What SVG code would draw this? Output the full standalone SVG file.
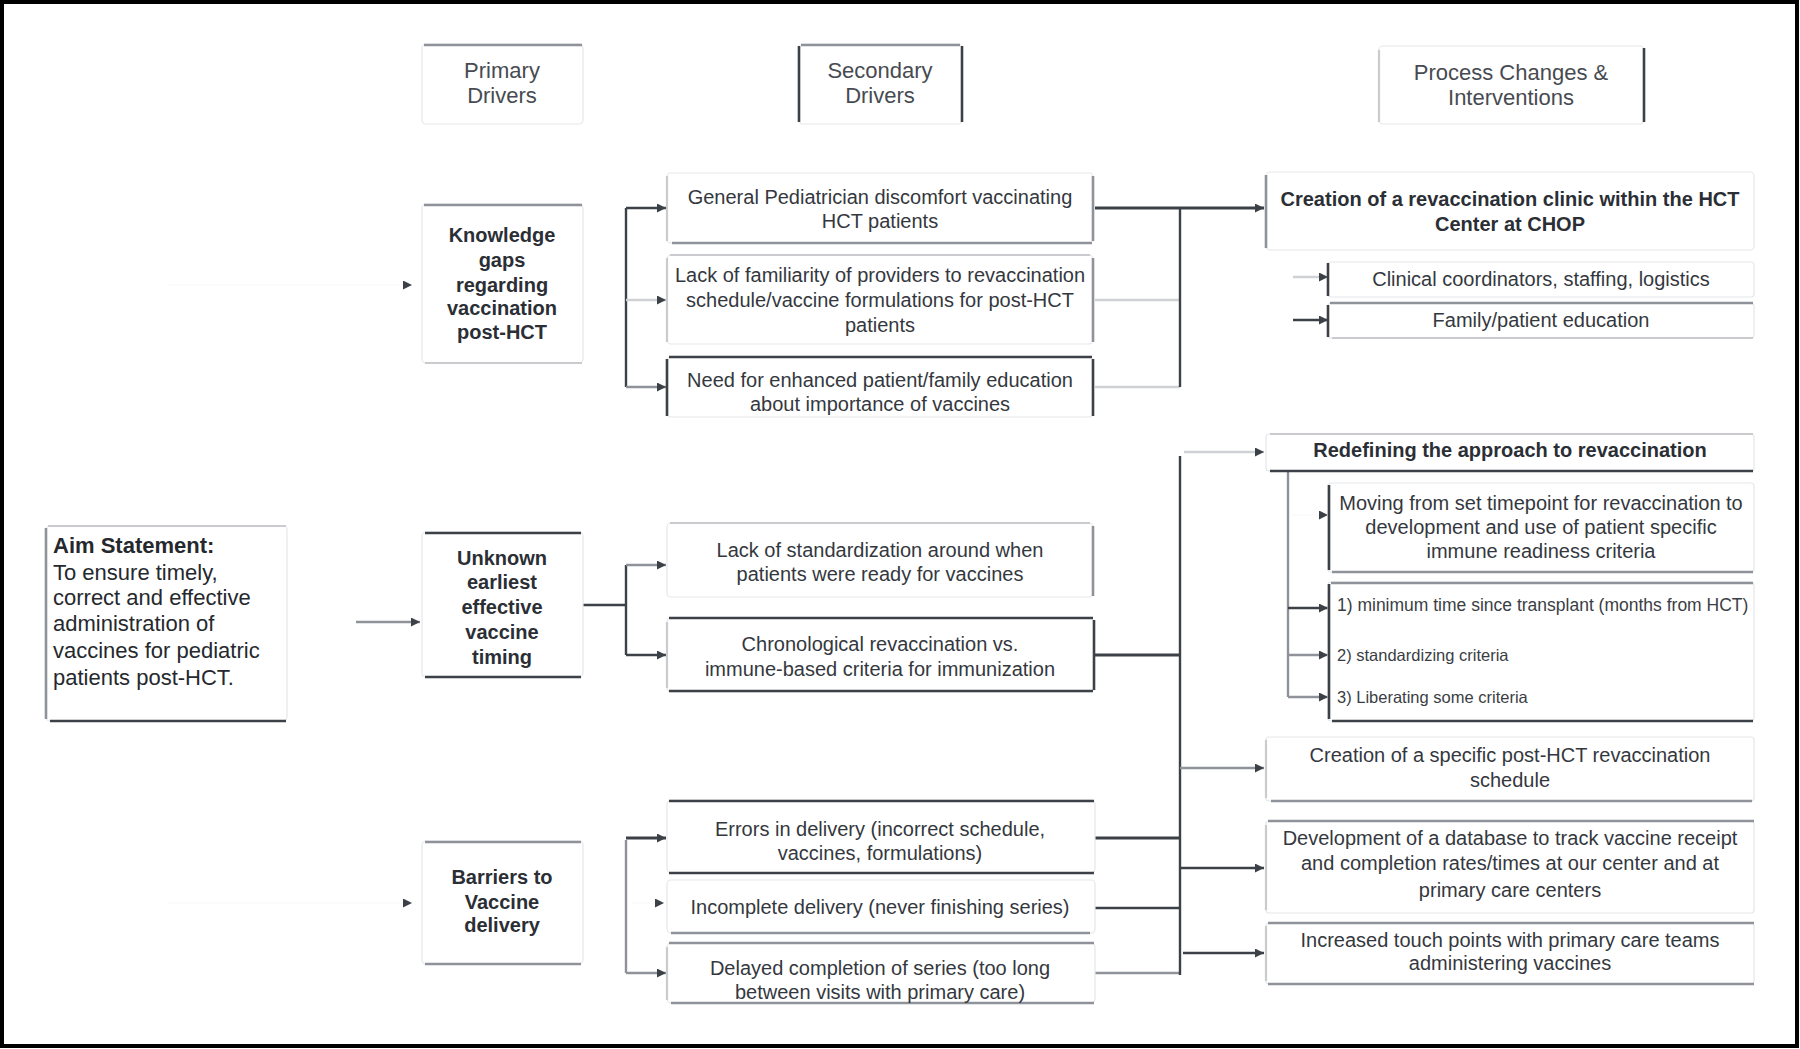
<svg xmlns="http://www.w3.org/2000/svg" width="1800" height="1049" viewBox="0 0 1800 1049">
<style>
.bg{fill:#fff}
.frame{fill:none;stroke:#000;stroke-width:4}
.box{fill:#fff;stroke:#e6e7e9;stroke-width:1.2}
.ed{stroke:#3c4047;stroke-width:2.6;fill:none}
.eg{stroke:#8f9399;stroke-width:2.6;fill:none}
.el{stroke:#c9cbce;stroke-width:2.2;fill:none}
.t{font-family:"Liberation Sans",Arial,sans-serif;font-size:20px;fill:#34383e;text-anchor:middle}
.tb{font-family:"Liberation Sans",Arial,sans-serif;font-size:20px;font-weight:bold;fill:#2b2f35;text-anchor:middle}
.th{font-family:"Liberation Sans",Arial,sans-serif;font-size:22px;fill:#474b51;text-anchor:middle}
.ta{font-family:"Liberation Sans",Arial,sans-serif;font-size:22px;fill:#25292e}
.ts{font-family:"Liberation Sans",Arial,sans-serif;font-size:16.5px;fill:#3a3e44}
.ts1{font-size:17.5px}
.cd{stroke:#3c4047;stroke-width:2.4;fill:none}
.cdt{stroke:#3c4047;stroke-width:3.2;fill:none}
.cg{stroke:#8f9399;stroke-width:2.4;fill:none}
.cl{stroke:#cfd1d4;stroke-width:2.4;fill:none}
.cf{stroke:#f7f7f7;stroke-width:1;fill:none}
</style>
<defs>
<marker id="ah" viewBox="0 0 10 10" refX="10" refY="5" markerWidth="9" markerHeight="9" markerUnits="userSpaceOnUse" orient="auto">
<path d="M0,0 L10,5 L0,10 z" fill="#3c4047"/>
</marker>
</defs>
<rect class="bg" x="0" y="0" width="1800" height="1049"/>
<rect class="frame" x="2" y="2" width="1795" height="1044"/>

<g id="connectors">
<path class="cf" d="M168,285 L412,285" marker-end="url(#ah)"/>
<path class="cf" d="M168,903 L412,903" marker-end="url(#ah)"/>
<path class="cf" d="M262,622 L284,622" marker-end="url(#ah)"/>
<path class="cg" d="M356,622 L420,622" marker-end="url(#ah)"/>
<path class="cd" d="M626,208 L626,387"/>
<path class="cd" d="M626,208 L666,208" marker-end="url(#ah)"/>
<path class="cl" d="M626,300 L666,300" marker-end="url(#ah)"/>
<path class="cg" d="M626,387 L666,387" marker-end="url(#ah)"/>
<path class="cdt" d="M1095,208 L1264,208" marker-end="url(#ah)"/>
<path class="cl" d="M1095,300 L1180,300"/>
<path class="cl" d="M1095,387 L1180,387"/>
<path class="cd" d="M1180,208 L1180,387"/>
<path class="cl" d="M1293,277 L1328,277" marker-end="url(#ah)"/>
<path class="cd" d="M1293,320 L1328,320" marker-end="url(#ah)"/>
<path class="cd" d="M583,605 L626,605"/>
<path class="cd" d="M626,565 L626,655"/>
<path class="cg" d="M626,565 L666,565" marker-end="url(#ah)"/>
<path class="cd" d="M626,655 L666,655" marker-end="url(#ah)"/>
<path class="cdt" d="M1095,655 L1180,655"/>
<path class="cdt" d="M1095,838 L1180,838"/>
<path class="cd" d="M1095,908 L1180,908"/>
<path class="cg" d="M1095,973 L1180,973"/>
<path class="cd" d="M1180,456 L1180,975"/>
<path class="cl" d="M1184,452 L1264,452" marker-end="url(#ah)"/>
<path class="cg" d="M1180,768 L1264,768" marker-end="url(#ah)"/>
<path class="cd" d="M1180,868 L1264,868" marker-end="url(#ah)"/>
<path class="cd" d="M1183,953 L1264,953" marker-end="url(#ah)"/>
<path class="cg" d="M626,840 L626,973"/>
<path class="cdt" d="M626,838 L666,838" marker-end="url(#ah)"/>
<path class="cf" d="M632,903 L664,903" marker-end="url(#ah)"/>
<path class="cg" d="M626,973 L666,973" marker-end="url(#ah)"/>
<path class="cg" d="M1288,472 L1288,697"/>
<path class="cf" d="M1292,515 L1328,515" marker-end="url(#ah)"/>
<path class="cd" d="M1288,608 L1328,608" marker-end="url(#ah)"/>
<path class="cg" d="M1288,655 L1328,655" marker-end="url(#ah)"/>
<path class="cg" d="M1288,697 L1328,697" marker-end="url(#ah)"/>
</g>

<g id="hdr-primary">
<rect class="box" x="422" y="44" width="161" height="80" rx="4"/>
<line class="eg" x1="424" y1="45" x2="582" y2="45"/>
<text class="th" x="502" y="78">Primary</text>
<text class="th" x="502" y="103">Drivers</text>
</g>
<g id="hdr-secondary">
<rect class="box" x="799" y="44" width="163" height="80" rx="4"/>
<line class="eg" x1="801" y1="45" x2="960" y2="45"/>
<line class="ed" x1="799" y1="46" x2="799" y2="122"/>
<line class="ed" x1="962" y1="46" x2="962" y2="122"/>
<text class="th" x="880" y="78">Secondary</text>
<text class="th" x="880" y="103">Drivers</text>
</g>
<g id="hdr-process">
<rect class="box" x="1379" y="46" width="265" height="78" rx="4"/>
<line class="el" x1="1379" y1="50" x2="1379" y2="122"/>
<line class="ed" x1="1644" y1="48" x2="1644" y2="122"/>
<text class="th" x="1511" y="80">Process Changes &amp;</text>
<text class="th" x="1511" y="105">Interventions</text>
</g>

<g id="aim">
<rect class="box" x="46" y="526" width="241" height="195" rx="4"/>
<line class="el" x1="48" y1="526" x2="286" y2="526"/>
<line class="eg" x1="46" y1="528" x2="46" y2="719"/>
<line class="ed" x1="50" y1="721" x2="286" y2="721"/>
<text class="ta" x="53" y="553" font-weight="bold">Aim Statement:</text>
<text class="ta" x="53" y="580">To ensure timely,</text>
<text class="ta" x="53" y="605">correct and effective</text>
<text class="ta" x="53" y="631">administration of</text>
<text class="ta" x="53" y="658">vaccines for pediatric</text>
<text class="ta" x="53" y="685">patients post-HCT.</text>
</g>

<g id="pd-knowledge">
<rect class="box" x="422" y="204" width="161" height="159" rx="4"/>
<line class="eg" x1="424" y1="205" x2="582" y2="205"/>
<line class="el" x1="425" y1="363" x2="582" y2="363"/>
<text class="tb" x="502" y="242">Knowledge</text>
<text class="tb" x="502" y="267">gaps</text>
<text class="tb" x="502" y="292">regarding</text>
<text class="tb" x="502" y="315">vaccination</text>
<text class="tb" x="502" y="339">post-HCT</text>
</g>
<g id="pd-unknown">
<rect class="box" x="422" y="532" width="161" height="145" rx="4"/>
<line class="ed" x1="425" y1="533" x2="581" y2="533"/>
<line class="ed" x1="425" y1="677" x2="581" y2="677"/>
<text class="tb" x="502" y="565">Unknown</text>
<text class="tb" x="502" y="589">earliest</text>
<text class="tb" x="502" y="614">effective</text>
<text class="tb" x="502" y="639">vaccine</text>
<text class="tb" x="502" y="664">timing</text>
</g>
<g id="pd-barriers">
<rect class="box" x="422" y="841" width="161" height="123" rx="4"/>
<line class="eg" x1="425" y1="842" x2="581" y2="842"/>
<line class="eg" x1="425" y1="964" x2="581" y2="964"/>
<text class="tb" x="502" y="884">Barriers to</text>
<text class="tb" x="502" y="909">Vaccine</text>
<text class="tb" x="502" y="932">delivery</text>
</g>

<g id="sd-general">
<rect class="box" x="667" y="173" width="426" height="70" rx="4"/>
<line class="el" x1="667" y1="176" x2="667" y2="241"/>
<line class="eg" x1="1093" y1="176" x2="1093" y2="241"/>
<line class="eg" x1="672" y1="243" x2="1092" y2="243"/>
<text class="t" x="880" y="204">General Pediatrician discomfort vaccinating</text>
<text class="t" x="880" y="228">HCT patients</text>
</g>
<g id="sd-familiarity">
<rect class="box" x="667" y="255" width="426" height="89" rx="4"/>
<line class="el" x1="670" y1="255" x2="1090" y2="255"/>
<line class="el" x1="667" y1="258" x2="667" y2="342"/>
<line class="eg" x1="1093" y1="258" x2="1093" y2="342"/>
<text class="t" x="880" y="282">Lack of familiarity of providers to revaccination</text>
<text class="t" x="880" y="307">schedule/vaccine formulations for post-HCT</text>
<text class="t" x="880" y="332">patients</text>
</g>
<g id="sd-education">
<rect class="box" x="667" y="357" width="426" height="60" rx="4"/>
<line class="ed" x1="669" y1="357" x2="1092" y2="357"/>
<line class="ed" x1="667" y1="359" x2="667" y2="416"/>
<line class="ed" x1="1093" y1="359" x2="1093" y2="416"/>
<text class="t" x="880" y="387">Need for enhanced patient/family education</text>
<text class="t" x="880" y="411">about importance of vaccines</text>
</g>
<g id="sd-standardization">
<rect class="box" x="667" y="523" width="426" height="74" rx="4"/>
<line class="el" x1="670" y1="523" x2="1090" y2="523"/>
<line class="eg" x1="1093" y1="526" x2="1093" y2="596"/>
<text class="t" x="880" y="557">Lack of standardization around when</text>
<text class="t" x="880" y="581">patients were ready for vaccines</text>
</g>
<g id="sd-chronological">
<rect class="box" x="667" y="618" width="427" height="74" rx="4"/>
<line class="ed" x1="669" y1="618" x2="1093" y2="618"/>
<line class="ed" x1="669" y1="691" x2="1093" y2="691"/>
<line class="el" x1="667" y1="622" x2="667" y2="688"/>
<line class="ed" x1="1094" y1="620" x2="1094" y2="690"/>
<text class="t" x="880" y="651">Chronological revaccination vs.</text>
<text class="t" x="880" y="676">immune-based criteria for immunization</text>
</g>
<g id="sd-errors">
<rect class="box" x="667" y="800" width="428" height="73" rx="4"/>
<line class="ed" x1="669" y1="801" x2="1094" y2="801"/>
<line class="ed" x1="669" y1="873" x2="1094" y2="873"/>
<text class="t" x="880" y="836">Errors in delivery (incorrect schedule,</text>
<text class="t" x="880" y="860">vaccines, formulations)</text>
</g>
<g id="sd-incomplete">
<rect class="box" x="667" y="880" width="428" height="53" rx="4"/>
<line class="eg" x1="671" y1="933" x2="1090" y2="933"/>
<text class="t" x="880" y="914">Incomplete delivery (never finishing series)</text>
</g>
<g id="sd-delayed">
<rect class="box" x="667" y="943" width="428" height="60" rx="4"/>
<line class="eg" x1="669" y1="943" x2="1094" y2="943"/>
<line class="eg" x1="671" y1="1003" x2="1094" y2="1003"/>
<line class="el" x1="667" y1="947" x2="667" y2="1000"/>
<text class="t" x="880" y="975">Delayed completion of series (too long</text>
<text class="t" x="880" y="999">between visits with primary care)</text>
</g>

<g id="pc-clinic">
<rect class="box" x="1266" y="172" width="488" height="78" rx="4"/>
<line class="eg" x1="1266" y1="175" x2="1266" y2="248"/>
<text class="tb" x="1510" y="206">Creation of a revaccination clinic within the HCT</text>
<text class="tb" x="1510" y="231">Center at CHOP</text>
</g>
<g id="pc-coordinators">
<rect class="box" x="1328" y="262" width="426" height="35" rx="3"/>
<line class="ed" x1="1328" y1="263" x2="1328" y2="296"/>
<text class="t" x="1541" y="286">Clinical coordinators, staffing, logistics</text>
</g>
<g id="pc-family">
<rect class="box" x="1328" y="303" width="426" height="35" rx="3"/>
<line class="eg" x1="1330" y1="303" x2="1753" y2="303"/>
<line class="ed" x1="1328" y1="305" x2="1328" y2="337"/>
<line class="el" x1="1332" y1="338" x2="1753" y2="338"/>
<text class="t" x="1541" y="327">Family/patient education</text>
</g>
<g id="pc-redefining">
<rect class="box" x="1266" y="434" width="488" height="37" rx="3"/>
<line class="el" x1="1270" y1="434" x2="1753" y2="434"/>
<line class="ed" x1="1270" y1="471" x2="1753" y2="471"/>
<text class="tb" x="1510" y="457">Redefining the approach to revaccination</text>
</g>
<g id="pc-moving">
<rect class="box" x="1328" y="483" width="426" height="89" rx="3"/>
<line class="ed" x1="1329" y1="485" x2="1329" y2="570"/>
<line class="eg" x1="1332" y1="572" x2="1753" y2="572"/>
<text class="t" x="1541" y="510">Moving from set timepoint for revaccination to</text>
<text class="t" x="1541" y="534">development and use of patient specific</text>
<text class="t" x="1541" y="558">immune readiness criteria</text>
</g>
<g id="pc-criteria">
<rect class="box" x="1328" y="582" width="426" height="139" rx="3"/>
<line class="eg" x1="1331" y1="583" x2="1753" y2="583"/>
<line class="ed" x1="1329" y1="584" x2="1329" y2="719"/>
<line class="ed" x1="1332" y1="721" x2="1753" y2="721"/>
<text class="ts ts1" x="1337" y="611">1) minimum time since transplant (months from HCT)</text>
<text class="ts" x="1337" y="661">2) standardizing criteria</text>
<text class="ts" x="1337" y="703">3) Liberating some criteria</text>
</g>
<g id="pc-schedule">
<rect class="box" x="1266" y="737" width="488" height="64" rx="3"/>
<line class="el" x1="1266" y1="740" x2="1266" y2="798"/>
<line class="eg" x1="1271" y1="801" x2="1752" y2="801"/>
<text class="t" x="1510" y="762">Creation of a specific post-HCT revaccination</text>
<text class="t" x="1510" y="787">schedule</text>
</g>
<g id="pc-database">
<rect class="box" x="1266" y="821" width="488" height="92" rx="3"/>
<line class="eg" x1="1268" y1="821" x2="1754" y2="821"/>
<line class="el" x1="1266" y1="825" x2="1266" y2="910"/>
<text class="t" x="1510" y="845">Development of a database to track vaccine receipt</text>
<text class="t" x="1510" y="870">and completion rates/times at our center and at</text>
<text class="t" x="1510" y="897">primary care centers</text>
</g>
<g id="pc-touch">
<rect class="box" x="1266" y="923" width="488" height="61" rx="3"/>
<line class="eg" x1="1268" y1="923" x2="1754" y2="923"/>
<line class="eg" x1="1268" y1="984" x2="1754" y2="984"/>
<line class="el" x1="1266" y1="926" x2="1266" y2="981"/>
<text class="t" x="1510" y="947">Increased touch points with primary care teams</text>
<text class="t" x="1510" y="970">administering vaccines</text>
</g>
</svg>
